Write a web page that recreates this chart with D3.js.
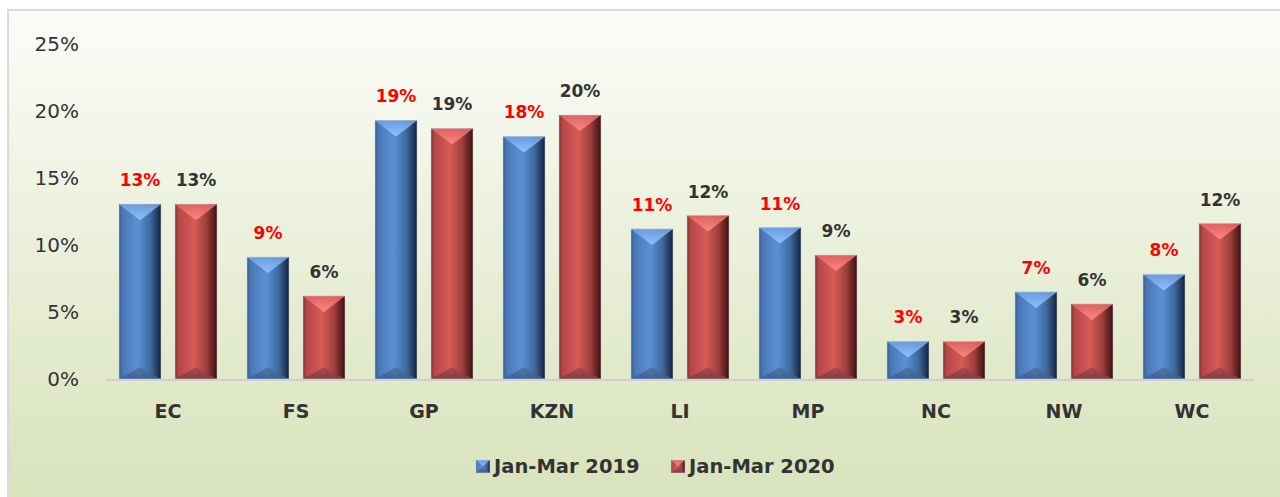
<!DOCTYPE html>
<html lang="en">
<head>
<meta charset="utf-8">
<title>Jan-Mar 2019 vs 2020 by province</title>
<script src="https://cdn.jsdelivr.net/npm/d3@7"></script>
<style>
  html, body { margin: 0; padding: 0; background: #ffffff; }
  svg { display: block; font-family: "DejaVu Sans", Verdana, sans-serif; }
</style>
</head>
<body>
<script>
// categories and series
var provinces = ["EC", "FS", "GP", "KZN", "LI", "MP", "NC", "NW", "WC"];
var seriesNames = ["Jan-Mar 2019", "Jan-Mar 2020"];
var values2019 = [0.1305, 0.091, 0.193, 0.181, 0.112, 0.113, 0.028, 0.065, 0.078];
var values2020 = [0.1305, 0.062, 0.187, 0.197, 0.122, 0.0925, 0.028, 0.056, 0.116];
var yTicks = [0, 0.05, 0.10, 0.15, 0.20, 0.25];

var w = 1280, h = 497;
var svg = d3.select("body").append("svg").attr("width", w).attr("height", h);
var defs = svg.append("defs");

// background gradient of the chart area
var bg = defs.append("linearGradient").attr("id", "bg")
  .attr("x1", 0).attr("y1", 0).attr("x2", 0).attr("y2", 1);
bg.append("stop").attr("offset", "0%").attr("stop-color", "#fbfcf8");
bg.append("stop").attr("offset", "100%").attr("stop-color", "#d6e1b7");

// bar side shading, one per series
var shades = [
  {id: "blueBar", stops: [["0", "#3b6196"], ["0.1", "#4a79b6"], ["0.45", "#5b90d6"], ["0.75", "#3f69a0"], ["1", "#14233a"]],
   top: ["#6c9fe0", "#93c6ff"], bottom: ["#4f719f", "#3d5c86"]},
  {id: "redBar", stops: [["0", "#8c3432"], ["0.1", "#b44a48"], ["0.45", "#d85a58"], ["0.75", "#9e3e3c"], ["1", "#3a1110"]],
   top: ["#e26462", "#ff8c89"], bottom: ["#9a4e4c", "#7e3a38"]}
];
shades.forEach(function(s) {
  var g = defs.append("linearGradient").attr("id", s.id)
    .attr("x1", 0).attr("y1", 0).attr("x2", 1).attr("y2", 0);
  s.stops.forEach(function(st) {
    g.append("stop").attr("offset", st[0]).attr("stop-color", st[1]);
  });
  var t = defs.append("linearGradient").attr("id", s.id + "Top")
    .attr("x1", 0).attr("y1", 0).attr("x2", 0).attr("y2", 1);
  t.append("stop").attr("offset", "0").attr("stop-color", s.top[0]);
  t.append("stop").attr("offset", "1").attr("stop-color", s.top[1]);
  var b = defs.append("linearGradient").attr("id", s.id + "Bot")
    .attr("x1", 0).attr("y1", 0).attr("x2", 0).attr("y2", 1);
  b.append("stop").attr("offset", "0").attr("stop-color", s.bottom[0]);
  b.append("stop").attr("offset", "1").attr("stop-color", s.bottom[1]);
});

svg.append("rect")
  .attr("x", 8).attr("y", 10).attr("width", 1300).attr("height", 520)
  .attr("fill", "url(#bg)")
  .attr("stroke", "#d9d9d9").attr("stroke-width", 2);

// scales
var x = d3.scaleBand().domain(provinces).range([104, 1256]).paddingInner(0);
var xSub = d3.scaleBand().domain(seriesNames).range([15, 113]).paddingInner(0.25);
var y = d3.scaleLinear().domain([0, 0.25]).range([379, 44]);

// y axis labels (no line, no gridlines)
var yAxis = d3.axisLeft(y).tickValues(yTicks).tickFormat(d3.format(".0%")).tickSize(0).tickPadding(0);
var yG = svg.append("g").attr("transform", "translate(79,0)").call(yAxis);
yG.select(".domain").remove();
yG.selectAll("text")
  .attr("fill", "#333333").style("font-size", "20px").style("font-family", "DejaVu Sans, sans-serif");

// baseline
svg.append("line")
  .attr("x1", 106).attr("x2", 1254).attr("y1", y(0) + 1).attr("y2", y(0) + 1)
  .attr("stroke", "#d0d0d0").attr("stroke-width", 2);

// x axis labels
var xAxis = d3.axisBottom(x).tickSize(0).tickPadding(0);
var xG = svg.append("g").attr("transform", "translate(0,404)").call(xAxis);
xG.select(".domain").remove();
xG.selectAll("text")
  .attr("fill", "#333333").style("font-size", "19px").style("font-weight", "bold")
  .style("font-family", "DejaVu Sans, sans-serif");

// bars with bevel faces
function drawBevelBar(g, bx, by, bw, bh, s, topDepth, botDepth) {
  g.append("rect").attr("x", bx).attr("y", by).attr("width", bw).attr("height", bh)
    .attr("fill", "url(#" + s.id + ")");
  var td = Math.min(topDepth, bh / 2), bd = Math.min(botDepth, bh / 2);
  g.append("polygon")
    .attr("points", [[bx, by], [bx + bw, by], [bx + bw / 2, by + td]].join(" "))
    .attr("fill", "url(#" + s.id + "Top)").attr("opacity", 0.9);
  g.append("polygon")
    .attr("points", [[bx, by + bh], [bx + bw, by + bh], [bx + bw / 2, by + bh - bd]].join(" "))
    .attr("fill", "url(#" + s.id + "Bot)").attr("opacity", 0.85);
  g.append("rect").attr("x", bx).attr("y", by).attr("width", bw).attr("height", bh)
    .attr("fill", "none").attr("stroke", "rgba(200,210,225,0.5)").attr("stroke-width", 1);
}

var allSeries = [values2019, values2020];
var labelColors = ["#ff0000", "#333333"];

provinces.forEach(function(p, i) {
  allSeries.forEach(function(vals, k) {
    var v = vals[i];
    var bx = x(p) + xSub(seriesNames[k]);
    var bw = xSub.bandwidth();
    var by = y(v);
    var bh = y(0) - y(v);
    drawBevelBar(svg.append("g"), bx, by, bw, bh, shades[k], 16, 12);
    svg.append("text")
      .attr("x", bx + bw / 2).attr("y", by - 18)
      .attr("text-anchor", "middle")
      .attr("fill", labelColors[k])
      .style("font-size", "17px").style("font-weight", "bold")
      .text(Math.round(v * 100) + "%");
  });
});

// legend
var legendX = [476, 671];
seriesNames.forEach(function(name, k) {
  var lg = svg.append("g");
  drawBevelBar(lg, legendX[k], 460, 14, 13, shades[k], 6, 6);
  lg.append("text")
    .attr("x", legendX[k] + 18).attr("y", 473)
    .attr("fill", "#333333")
    .style("font-size", "19.5px").style("font-weight", "bold")
    .text(name);
});
</script>
</body>
</html>
